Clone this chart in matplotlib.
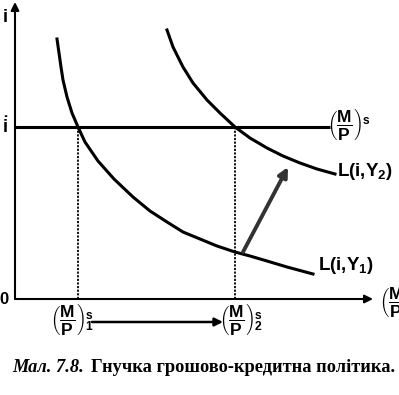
import matplotlib
matplotlib.use("Agg")
import matplotlib.pyplot as plt
from matplotlib import font_manager

NARROW = "Liberation Sans Narrow"
try:
    font_manager.findfont(NARROW, fallback_to_default=False)
except ValueError:
    NARROW = "Liberation Sans"

plt.rcParams["mathtext.fontset"] = "custom"
plt.rcParams["mathtext.rm"] = NARROW + ":bold"
plt.rcParams["mathtext.it"] = NARROW + ":bold"
plt.rcParams["mathtext.bf"] = NARROW + ":bold"
plt.rcParams["font.family"] = "Liberation Sans"

# money demand curves (x = real money balance, y = interest rate)
l1_x = [42, 46, 48, 52, 57, 63, 70, 83, 99, 118, 135, 152, 168, 185, 202,
        220, 235, 252, 272, 298]
l1_y = [260, 232, 219, 202, 186, 172, 157, 138, 120, 102, 88, 77, 67, 60,
        53, 47, 43, 38, 32, 25]
l2_x = [152, 158, 168, 178, 192, 205, 220, 235, 252, 268, 285, 302, 320]
l2_y = [269, 252, 232, 216, 199, 186, 172, 161, 151, 143, 136, 130, 125]
i_star = 172
ms1, ms2 = 63, 220
ms_line_end = 315
shift_from = (228, 47)
shift_to = (273, 132)

frac = r"$\left(\dfrac{M}{P}\right)$"
frac_s = r"$\left(\dfrac{M}{P}\right)^{s}$"
frac_s1 = r"$\left(\dfrac{M}{P}\right)^{s}_{1}$"
frac_s2 = r"$\left(\dfrac{M}{P}\right)^{s}_{2}$"

fig = plt.figure(figsize=(3.99, 3.95), dpi=100)
ax = fig.add_axes([15 / 399, 96 / 395, 384 / 399, 299 / 395])
ax.set_xlim(0, 384)
ax.set_ylim(0, 299)
ax.axis("off")

# axes with arrows
ax.annotate("", xy=(0, 297), xytext=(0, 0), annotation_clip=False,
            arrowprops=dict(arrowstyle="-|>", color="black", lw=1.5,
                            mutation_scale=12, shrinkA=0, shrinkB=0))
ax.annotate("", xy=(358, 0), xytext=(0, 0), annotation_clip=False,
            arrowprops=dict(arrowstyle="-|>", color="black", lw=1.5,
                            mutation_scale=12, shrinkA=0, shrinkB=0))

# money supply line
ax.plot([0, ms_line_end], [i_star, i_star], color="black", lw=2.2,
        solid_capstyle="butt")

# demand curves
ax.plot(l1_x, l1_y, color="black", lw=2.2, solid_joinstyle="round")
ax.plot(l2_x, l2_y, color="black", lw=2.2, solid_joinstyle="round")

# dotted guide lines
for m in (ms1, ms2):
    ax.plot([m, m], [0, i_star], color="black", lw=1.3, ls=(0, (1.2, 0.8)))

# shift arrow
ax.annotate("", xy=shift_to, xytext=shift_from,
            arrowprops=dict(arrowstyle="-|>", color="0.2", lw=2.8,
                            mutation_scale=14, shrinkA=0, shrinkB=0))

# bottom arrow between money levels
ax.annotate("", xy=(ms2 - 12, -23), xytext=(ms1 + 14, -23),
            annotation_clip=False,
            arrowprops=dict(arrowstyle="-|>", color="black", lw=1.8,
                            mutation_scale=12, shrinkA=0, shrinkB=0))

# labels
ax.text(-10, 281, "i", fontsize=13, fontweight="bold", ha="center", va="center")
ax.text(-10, 172, r"$\dot{\mathrm{i}}$", fontsize=13, ha="center", va="center")
ax.text(-11, 0, "0", fontsize=12, fontweight="bold", ha="center", va="center")

ax.text(334, 175, frac_s, fontsize=12.5, ha="center", va="center")
ax.text(322, 128, r"L(i,Y$_2$)", fontsize=13.5, fontweight="bold", ha="left",
        va="center")
ax.text(303, 33, r"L(i,Y$_1$)", fontsize=13.5, fontweight="bold", ha="left",
        va="center")
ax.text(364, -2, frac, fontsize=12.5, ha="left", va="center", clip_on=False)
ax.text(ms1 - 6, -20, frac_s1, fontsize=12.5, ha="center", va="center",
        clip_on=False)
ax.text(ms2 + 6, -20, frac_s2, fontsize=12.5, ha="center", va="center",
        clip_on=False)

# caption
fig.text(12 / 399, 1 - 367 / 395, "Мал. 7.8.", family="Liberation Serif",
         fontsize=13.2, fontweight="bold", style="italic", va="center")
fig.text(91 / 399, 1 - 367 / 395, "Гнучка грошово-кредитна політика.",
         family="Liberation Serif", fontsize=13.2, fontweight="bold",
         va="center")

fig.savefig("out.png", dpi=100)
